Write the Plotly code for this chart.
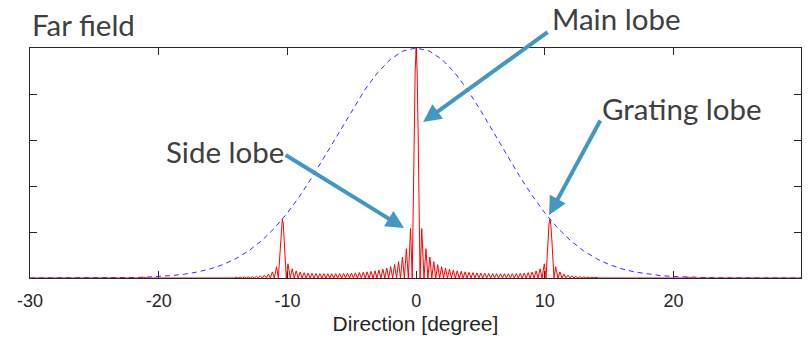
import plotly.graph_objects as go

# ---- data ----
# Array factor x element pattern (red), direction in degrees / amplitude
red_deg = [
    -29.9, -21.42, -21.16, -20.90,
    -14.131, -13.975, -13.818, -13.662, -13.506, -13.350, -13.193, -13.038, -12.882,
    -12.726, -12.570, -12.415, -12.259, -12.104, -11.948, -11.793, -11.637, -11.482,
    -11.327, -11.172, -11.017, -10.841, -10.708, -10.631, -10.553, -10.476, -10.398,
    -10.321, -10.243, -10.166, -10.089, -9.957, -9.781, -9.627, -9.472, -9.318,
    -9.164, -9.010, -8.856, -8.702, -8.548, -8.395, -8.241, -8.088, -7.934,
    -7.781, -7.627, -7.474, -7.320, -7.167, -7.014, -6.861, -6.707, -6.554,
    -6.401, -6.248, -6.095, -5.942, -5.789, -5.637, -5.484, -5.331, -5.178,
    -5.026, -4.873, -4.721, -4.568, -4.415, -4.262, -4.110, -3.957, -3.805,
    -3.653, -3.501, -3.348, -3.196, -3.043, -2.891, -2.739, -2.587, -2.434,
    -2.282, -2.130, -1.978, -1.825, -1.673, -1.521, -1.369, -1.217, -1.065,
    -0.913, -0.760, -0.608, -0.435, -0.304, -0.228, -0.152, -0.076,
    0.0,
    0.076, 0.152, 0.228, 0.304, 0.435, 0.608, 0.760, 0.913,
    1.065, 1.217, 1.369, 1.521, 1.673, 1.825, 1.978, 2.130, 2.282,
    2.434, 2.587, 2.739, 2.891, 3.043, 3.196, 3.348, 3.501, 3.653,
    3.805, 3.957, 4.110, 4.262, 4.415, 4.568, 4.721, 4.873, 5.026,
    5.178, 5.331, 5.484, 5.637, 5.789, 5.942, 6.095, 6.248, 6.401,
    6.554, 6.707, 6.861, 7.014, 7.167, 7.320, 7.474, 7.627, 7.781,
    7.934, 8.088, 8.241, 8.395, 8.548, 8.702, 8.856, 9.010, 9.164,
    9.318, 9.472, 9.627, 9.781, 9.957, 10.089, 10.166, 10.243, 10.321,
    10.398, 10.476, 10.553, 10.631, 10.708, 10.841, 11.017, 11.172, 11.327,
    11.482, 11.637, 11.793, 11.948, 12.104, 12.259, 12.415, 12.570, 12.726,
    12.882, 13.038, 13.193, 13.350, 13.506, 13.662, 13.818, 13.975, 14.131,
    20.90, 21.16, 21.42, 29.9,
]
red_amp = [
    0.0, 0.0, 0.0035, 0.0,
    0.0, 0.0029, 0.0, 0.0034, 0.0, 0.0040, 0.0, 0.0049, 0.0,
    0.0060, 0.0, 0.0074, 0.0, 0.0095, 0.0, 0.0126, 0.0, 0.0175,
    0.0, 0.0266, 0.0, 0.0490, 0.0, 0.072, 0.156, 0.225, 0.256,
    0.2345, 0.169, 0.081, 0.0, 0.0618, 0.0, 0.0398, 0.0, 0.0309,
    0.0, 0.0261, 0.0, 0.0232, 0.0, 0.0214, 0.0, 0.0201, 0.0,
    0.0194, 0.0, 0.0189, 0.0, 0.0187, 0.0, 0.0186, 0.0, 0.0187,
    0.0, 0.0189, 0.0, 0.0193, 0.0, 0.0199, 0.0, 0.0205, 0.0,
    0.0214, 0.0, 0.0224, 0.0, 0.0236, 0.0, 0.0250, 0.0, 0.0268,
    0.0, 0.0289, 0.0, 0.0314, 0.0, 0.0344, 0.0, 0.0382, 0.0,
    0.0431, 0.0, 0.0495, 0.0, 0.0583, 0.0, 0.0711, 0.0, 0.0912,
    0.0, 0.1275, 0.0, 0.215, 0.0, 0.30, 0.637, 0.90,
    1.0,
    0.90, 0.637, 0.30, 0.0, 0.215, 0.0, 0.1275, 0.0,
    0.0912, 0.0, 0.0711, 0.0, 0.0583, 0.0, 0.0495, 0.0, 0.0431,
    0.0, 0.0382, 0.0, 0.0344, 0.0, 0.0314, 0.0, 0.0289, 0.0,
    0.0268, 0.0, 0.0250, 0.0, 0.0236, 0.0, 0.0224, 0.0, 0.0214,
    0.0, 0.0205, 0.0, 0.0199, 0.0, 0.0193, 0.0, 0.0189, 0.0,
    0.0187, 0.0, 0.0186, 0.0, 0.0187, 0.0, 0.0189, 0.0, 0.0194,
    0.0, 0.0201, 0.0, 0.0214, 0.0, 0.0232, 0.0, 0.0261, 0.0,
    0.0309, 0.0, 0.0398, 0.0, 0.0618, 0.0, 0.081, 0.169, 0.2345,
    0.256, 0.225, 0.156, 0.072, 0.0, 0.0490, 0.0, 0.0266, 0.0,
    0.0175, 0.0, 0.0126, 0.0, 0.0095, 0.0, 0.0074, 0.0, 0.0060,
    0.0, 0.0049, 0.0, 0.0040, 0.0, 0.0034, 0.0, 0.0029, 0.0,
    0.0, 0.0035, 0.0, 0.0,
]

# Element pattern envelope (blue dashed)
env_deg = [-30, -29, -28, -27, -26, -25, -24, -23, -22, -21, -20, -19, -18, -17, -16,
           -15, -14, -13, -12, -11, -10, -9, -8, -7, -6, -5, -4, -3, -2, -1, 0,
           1, 2, 3, 4, 5, 6, 7, 8, 9, 10, 11, 12, 13, 14, 15,
           16, 17, 18, 19, 20, 21, 22, 23, 24, 25, 26, 27, 28, 29, 30]
env_amp = [0.0, 0.0, 0.0001, 0.0001, 0.0002, 0.0004, 0.0007, 0.0013, 0.0022, 0.0038,
           0.0064, 0.0105, 0.0167, 0.0260, 0.0395, 0.0584, 0.0842, 0.1184, 0.1623,
           0.2171, 0.2830, 0.3597, 0.4458, 0.5387, 0.6348, 0.7293, 0.8171, 0.8926,
           0.9508, 0.9875, 1.0,
           0.9875, 0.9508, 0.8926, 0.8171, 0.7293, 0.6348, 0.5387, 0.4458, 0.3597,
           0.2830, 0.2171, 0.1623, 0.1184, 0.0842, 0.0584, 0.0395, 0.0260, 0.0167,
           0.0105, 0.0064, 0.0038, 0.0022, 0.0013, 0.0007, 0.0004, 0.0002, 0.0001,
           0.0001, 0.0, 0.0]

x_ticks = [-30, -20, -10, 0, 10, 20]
x_tick_labels = ["-30", "-20", "-10", "0", "10", "20"]
y_ticks = [0, 0.2, 0.4, 0.6, 0.8, 1.0]

title_text = "Far field"
x_title = "Direction [degree]"
labels = ["Main lobe", "Side lobe", "Grating lobe"]

# ---- figure ----
fig = go.Figure()
fig.add_trace(go.Scatter(x=env_deg, y=env_amp, mode="lines",
                         line=dict(color="#3030ff", width=1, dash="5px,4px"),
                         hoverinfo="skip", showlegend=False))
fig.add_trace(go.Scatter(x=red_deg, y=red_amp, mode="lines",
                         line=dict(color="#ff0000", width=1),
                         hoverinfo="skip", showlegend=False))

axis_col = "#262626"
fig.update_xaxes(range=[-30, 29.9], tickmode="array", tickvals=x_ticks, ticktext=x_tick_labels,
                 ticks="inside", ticklen=7, tickcolor=axis_col, tickwidth=1,
                 showline=True, linecolor=axis_col, linewidth=1, mirror="allticks",
                 showgrid=False, zeroline=False, layer="below traces", automargin=False,
                 ticklabelstandoff=6,
                 tickfont=dict(family="Liberation Sans, Arial", size=18, color=axis_col),
                 title=dict(text=x_title, standoff=6,
                            font=dict(family="Liberation Sans, Arial", size=21, color=axis_col)))
fig.update_yaxes(range=[0, 1], tickmode="array", tickvals=y_ticks,
                 ticks="inside", ticklen=7, tickcolor=axis_col, tickwidth=1,
                 showline=True, linecolor=axis_col, linewidth=1, mirror="allticks",
                 showgrid=False, zeroline=False, showticklabels=False,
                 layer="below traces", automargin=False)

txt_font = dict(family="Lato", size=29.5, color="#404040")
arrow_col = "#4298c2"

# text labels in paper coordinates (plot area fractions)
text_pos = [(title_text, 0.0, 1.104), (labels[0], 0.674, 1.130),
            (labels[1], 0.1737, 0.552), (labels[2], 0.739, 0.739)]
for t, px, py in text_pos:
    fig.add_annotation(x=px, y=py, xref="paper", yref="paper", text=t,
                       showarrow=False, xanchor="left", yanchor="middle", font=txt_font)

# arrows: (head x, head y, tail x, tail y) in data units
arrows = [(0.54, 0.678, 10.33, 1.074),
          (-0.94, 0.217, -10.26, 0.539),
          (10.33, 0.274, 14.37, 0.691)]
for hx, hy, tx, ty in arrows:
    fig.add_annotation(x=hx, y=hy, xref="x", yref="y", ax=tx, ay=ty, axref="x", ayref="y",
                       text="", showarrow=True, arrowhead=2, arrowsize=0.9,
                       arrowwidth=4, arrowcolor=arrow_col, standoff=0, startstandoff=0)

fig.update_layout(width=809, height=338, margin=dict(l=30, r=8, t=48, b=60),
                  plot_bgcolor="white", paper_bgcolor="white", showlegend=False)

# remove the default page margin so the figure fills the window exactly
fig.write_html("out.html", config={"displayModeBar": False},
               post_script="document.body.style.margin='0';")
